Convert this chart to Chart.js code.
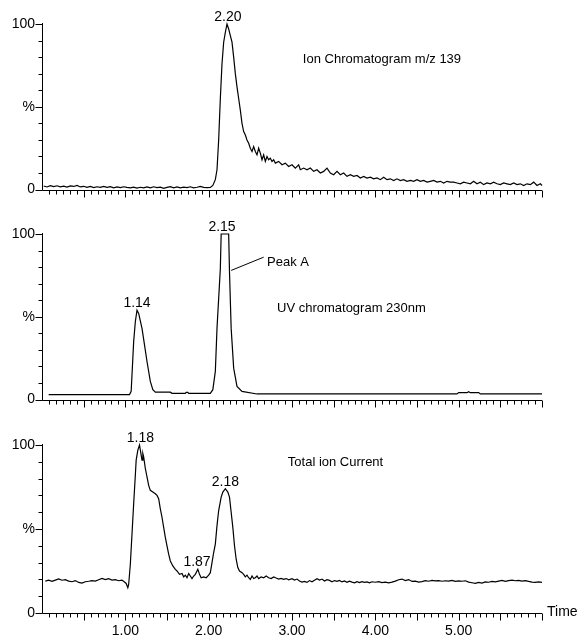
<!DOCTYPE html>
<html>
<head>
<meta charset="utf-8">
<script src="https://cdn.jsdelivr.net/npm/chart.js@4"></script>
<style>
  html, body { margin: 0; padding: 0; background: #fff; }
  #wrap { position: relative; width: 584px; height: 636px; }
  canvas { position: absolute; left: 0; }
</style>
</head>
<body>
<div id="wrap">
  <canvas id="ion" width="584" height="205" style="top:0"></canvas>
  <canvas id="uv" width="584" height="210" style="top:205px"></canvas>
  <canvas id="tic" width="584" height="221" style="top:415px"></canvas>
</div>
<script>
// retention time (min) and relative intensity (%)
const ionTime = [0.02,0.06,0.10,0.14,0.18,0.22,0.26,0.30,0.34,0.38,0.42,0.46,0.50,0.54,0.58,0.62,0.66,0.70,0.74,0.78,
  0.82,0.86,0.90,0.94,0.98,1.02,1.06,1.10,1.14,1.18,1.22,1.26,1.30,1.34,1.38,1.42,1.46,1.50,1.54,1.58,
  1.62,1.66,1.70,1.74,1.78,1.82,1.86,1.90,1.94,1.98,2.02,2.05,2.08,2.10,2.12,2.14,2.16,2.18,2.20,2.22,
  2.24,2.26,2.28,2.30,2.32,2.34,2.36,2.38,2.40,2.42,2.44,2.46,2.48,2.50,2.52,2.54,2.56,2.58,2.60,2.62,
  2.64,2.66,2.68,2.70,2.72,2.74,2.76,2.78,2.80,2.84,2.88,2.92,2.96,3.00,3.04,3.08,3.10,3.14,3.18,3.22,
  3.26,3.30,3.34,3.38,3.42,3.46,3.50,3.54,3.58,3.62,3.66,3.70,3.74,3.78,3.82,3.86,3.90,3.94,3.98,4.02,
  4.06,4.10,4.14,4.18,4.22,4.26,4.30,4.34,4.38,4.42,4.46,4.50,4.54,4.58,4.62,4.66,4.70,4.74,4.78,4.82,
  4.86,4.90,4.94,4.98,5.02,5.06,5.10,5.14,5.18,5.22,5.26,5.30,5.34,5.38,5.42,5.46,5.50,5.54,5.58,5.62,
  5.66,5.70,5.74,5.78,5.82,5.86,5.90,5.94,5.98,6.00];
const ionPct = [2.2,1.6,2.4,1.8,2.3,1.7,2.1,1.5,2.2,1.9,2.5,1.6,2.0,1.4,1.9,1.2,1.7,1.3,1.9,1.4,
  1.8,1.1,1.6,1.2,1.7,1.3,1.0,1.5,0.9,1.4,1.0,1.6,1.1,1.7,1.2,1.5,0.8,1.3,1.8,1.1,
  1.6,1.0,1.5,1.2,1.7,1.1,1.4,1.9,1.3,1.2,1.3,2.5,6,12,30,55,76,89,95,100,
  97,93,89,80,70,62,55,48,40,35,33,30,28,25,23,26,23,21,25,22,
  18,21,17,20,18,19,17,18,16,17,15,16,14,15,13,15,12,13,12,13,
  11,12,10,11,13,10,9,11,9,10,8,9,8,8.5,7,8,7,7.5,6.5,7,
  6,7.5,6,6.5,5.5,6.5,5.5,6,5,5.5,5,6,5,5.5,4.5,5,5.5,4.5,5,4,
  5,4.5,4.5,4,3.5,4.5,4,3.5,5,3.5,4.5,3,4,3.5,4.5,3.5,3,4,3.5,3,
  4,3,3.5,2.5,3.5,3,4.5,2.5,3.5,2.5];

const uvTime = [0.08,1.05,1.07,1.10,1.12,1.14,1.16,1.20,1.23,1.26,1.30,1.33,1.36,1.54,1.56,1.72,1.73,1.75,1.76,2.02,
  2.05,2.08,2.10,2.14,2.15,2.24,2.25,2.27,2.30,2.34,2.40,2.58,4.98,5.00,5.10,5.12,5.14,5.24,5.26,6.00];
const uvPct = [3,3,5,35,47,54,52,43,33,23,11,6,4.5,4.5,3.8,3.8,4.4,4.4,3.8,3.8,
  6,17,43,79,100,100,77,43,19,8,5,3.4,3.4,4.2,4.2,4.8,4.2,4.2,3.4,3.4];

const ticTime = [0.04,0.08,0.12,0.16,0.20,0.24,0.28,0.32,0.36,0.40,0.44,0.48,0.52,0.56,0.60,0.64,0.68,0.72,0.76,0.80,
  0.84,0.88,0.92,0.96,0.99,1.01,1.03,1.04,1.06,1.08,1.10,1.12,1.13,1.15,1.17,1.19,1.20,1.21,1.22,1.24,
  1.26,1.28,1.30,1.33,1.36,1.38,1.40,1.42,1.44,1.46,1.48,1.50,1.52,1.54,1.57,1.60,1.62,1.65,1.68,1.70,
  1.72,1.74,1.76,1.78,1.80,1.82,1.84,1.87,1.89,1.91,1.94,1.97,2.00,2.02,2.04,2.06,2.08,2.10,2.12,2.15,
  2.17,2.20,2.23,2.25,2.27,2.29,2.31,2.33,2.35,2.37,2.40,2.42,2.44,2.46,2.48,2.50,2.52,2.54,2.56,2.58,
  2.60,2.63,2.66,2.69,2.72,2.75,2.78,2.81,2.84,2.87,2.90,2.93,2.96,3.00,3.03,3.06,3.09,3.12,3.15,3.18,
  3.21,3.24,3.27,3.30,3.33,3.36,3.39,3.42,3.45,3.48,3.51,3.54,3.57,3.60,3.63,3.66,3.69,3.72,3.75,3.78,
  3.81,3.84,3.87,3.90,3.93,3.96,4.00,4.04,4.08,4.12,4.16,4.20,4.24,4.28,4.32,4.36,4.40,4.44,4.48,4.52,
  4.56,4.60,4.64,4.68,4.72,4.76,4.80,4.84,4.88,4.92,4.96,5.00,5.04,5.08,5.12,5.16,5.20,5.24,5.28,5.32,
  5.36,5.40,5.44,5.48,5.52,5.56,5.60,5.64,5.68,5.72,5.76,5.80,5.84,5.88,5.92,5.96,6.00];
const ticPct = [19,19.5,18.8,19.6,20.3,19.5,19.8,19.0,18.6,19.3,18.2,17.8,18.6,18.9,19.3,19.0,19.8,20.6,19.9,20.4,
  19.6,19.9,19.2,19.6,18.4,17.6,15.0,17.0,29,47,65,82,91,97,100,94,91,95,93,86,
  81,76,73,72,71,70,68,62,57,51,45,40,35,31,28,26,25,23,23.5,21.5,
  22.5,21,23.5,22,20.5,22,23,26,23,21,21.5,21,22.5,24,30,36,41,52,61,69,
  72,74,72,69,60,51,40,32,27,25,24,23,21.5,22.5,21,20,22,20.5,21,22,
  20.5,21.5,21,22,21,20.5,21.5,20.8,20.2,20.6,20,20.5,19.8,20.4,19.6,20.2,19,18.4,18.8,18.2,
  19.3,18.6,19.5,20.4,19.6,20.2,19.0,19.8,19.4,18.6,19.3,18.8,19.4,18.5,19.1,18.3,18.9,18.4,18.0,18.6,
  18.1,18.7,18.2,18.5,18.0,18.6,18.3,18.7,18.1,18.4,17.9,18.4,19.0,19.8,20.2,19.3,19.9,18.8,19.0,18.4,
  18.7,19.3,18.9,19.4,19.1,19.3,18.9,19.2,19.0,19.4,18.8,19.1,18.9,19.2,18.4,18.0,17.6,18.2,17.8,18.5,
  18.3,18.8,18.5,19.0,19.4,18.8,19.3,19.6,19.2,19.4,19.0,19.3,18.8,18.4,18.2,18.5,18.2];

// peak annotations: [time, intensity, label]
const ionPeaks = [[2.23, 100, '2.20']];
const uvPeaks = [[1.14, 54, '1.14'], [2.16, 100, '2.15']];
const ticPeaks = [[1.18, 100, '1.18'], [1.86, 26, '1.87'], [2.20, 74, '2.18']];

const timeTicks = [1, 2, 3, 4, 5];
const pctTicks = [0, 50, 100];
const pctTickLabels = ['0', '%', '100'];

const FONT = '"Liberation Sans", Arial, sans-serif';

const chromAxes = {
  id: 'chromAxes',
  afterDraw(chart, args, opts) {
    const { ctx, chartArea: a, scales: { x, y } } = chart;
    ctx.save();
    ctx.strokeStyle = '#000';
    ctx.lineWidth = 1;
    ctx.beginPath();
    const left = a.left + 0.5, bottom = Math.round(a.bottom) + 0.5;
    ctx.moveTo(left, a.top - 1);
    ctx.lineTo(left, bottom);
    ctx.lineTo(a.right, bottom);
    for (let k = 1; k <= 72; k++) {
      const px = Math.round(x.getPixelForValue(k / 12)) + 0.5;
      ctx.moveTo(px, bottom);
      ctx.lineTo(px, bottom + (k % 6 === 0 ? 7 : 4));
    }
    for (let v = 0; v <= 100; v += 10) {
      const py = Math.round(y.getPixelForValue(v)) + 0.5;
      ctx.moveTo(left, py);
      ctx.lineTo(left - (v % 50 === 0 ? 7 : 4), py);
    }
    (opts.leaders || []).forEach(([t1, v1, t2, v2]) => {
      ctx.moveTo(x.getPixelForValue(t1), y.getPixelForValue(v1));
      ctx.lineTo(x.getPixelForValue(t2), y.getPixelForValue(v2));
    });
    ctx.stroke();

    ctx.fillStyle = '#000';
    ctx.font = '14px ' + FONT;
    ctx.textAlign = 'center';
    ctx.textBaseline = 'alphabetic';
    opts.peaks.forEach(([t, v, s]) => {
      ctx.fillText(s, x.getPixelForValue(t), y.getPixelForValue(v) - 3);
    });
    ctx.font = '13px ' + FONT;
    ctx.textAlign = 'left';
    ctx.textBaseline = 'middle';
    opts.notes.forEach(([t, v, s]) => {
      ctx.fillText(s, x.getPixelForValue(t), y.getPixelForValue(v));
    });
    if (opts.axisTitle) {
      ctx.font = '14px ' + FONT;
      ctx.fillText(opts.axisTitle, a.right + 5, bottom - 1);
    }
    ctx.restore();
  }
};

function makePanel(id, time, pct, cfg) {
  return new Chart(document.getElementById(id), {
    type: 'line',
    data: {
      datasets: [{
        data: time.map((t, i) => ({ x: t, y: pct[i] })),
        borderColor: '#000',
        borderWidth: 1.2,
        pointRadius: 0,
        tension: 0,
        fill: false,
        clip: false
      }]
    },
    options: {
      responsive: false,
      animation: false,
      events: [],
      layout: { padding: { top: cfg.top, right: 42, left: 0, bottom: 0 } },
      scales: {
        x: {
          type: 'linear',
          min: 0,
          max: 6,
          afterFit: s => { s.height = cfg.xHeight; },
          afterBuildTicks: s => { s.ticks = timeTicks.map(v => ({ value: v })); },
          grid: { display: false, drawTicks: false },
          border: { display: false },
          ticks: {
            display: !!cfg.showTime,
            padding: 10,
            autoSkip: false,
            maxRotation: 0,
            color: '#000',
            font: { family: FONT, size: 14 },
            callback: v => v.toFixed(2)
          }
        },
        y: {
          min: 0,
          max: 100,
          afterFit: s => { s.width = 42; },
          afterBuildTicks: s => { s.ticks = pctTicks.map(v => ({ value: v })); },
          grid: { display: false, drawTicks: false },
          border: { display: false },
          ticks: {
            padding: 7,
            color: '#000',
            font: { family: FONT, size: 14 },
            callback: (v, i) => pctTickLabels[i]
          }
        }
      },
      plugins: {
        legend: { display: false },
        tooltip: { enabled: false },
        chromAxes: cfg.marks
      }
    },
    plugins: [chromAxes]
  });
}

makePanel('ion', ionTime, ionPct, {
  top: 24, xHeight: 13,
  marks: { peaks: ionPeaks, notes: [[3.13, 78.6, 'Ion Chromatogram m/z 139']] }
});
makePanel('uv', uvTime, uvPct, {
  top: 29, xHeight: 13,
  marks: {
    peaks: uvPeaks,
    notes: [[2.70, 82.7, 'Peak A'], [2.82, 54.8, 'UV chromatogram 230nm']],
    leaders: [[2.27, 78, 2.66, 86]]
  }
});
makePanel('tic', ticTime, ticPct, {
  top: 30, xHeight: 23, showTime: true,
  marks: { peaks: ticPeaks, notes: [[2.95, 89.9, 'Total ion Current']], axisTitle: 'Time' }
});
</script>
</body>
</html>
